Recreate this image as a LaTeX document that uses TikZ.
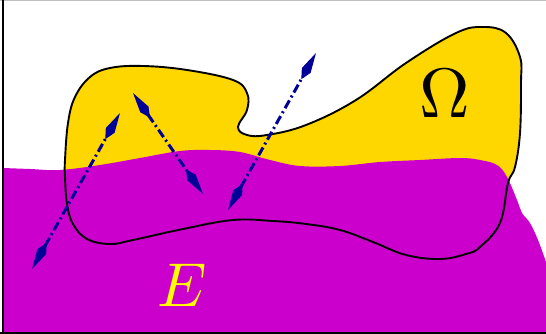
\documentclass[tikz,border=0pt]{standalone}
\usepackage{amsmath,amssymb}
\usepackage{xcolor}
\usepackage{tikz}
\usetikzlibrary{arrows.meta, positioning}

\definecolor{omegagold}{RGB}{255,215,0}
\definecolor{setmagenta}{RGB}{204,0,204}
\definecolor{trajblue}{RGB}{0,0,150}
\definecolor{labelyellow}{RGB}{255,255,0}

\begin{document}
\begin{tikzpicture}[x=1pt, y=-1pt,
    traj/.style={trajblue, line width=3pt,
        dash pattern=on 9pt off 3.5pt on 2pt off 3.5pt,
        {Kite[length=30pt, width=10pt, inset=10pt]}-{Kite[length=30pt, width=10pt, inset=10pt]}},
    border/.style={black, line width=2.6pt}]
    \useasboundingbox (0,0) rectangle (546,334);

    % ---------------- domain Omega (fill) ----------------
    \fill[omegagold] plot[smooth cycle, tension=0.65] coordinates {
        (90,77) (110,68) (143,66) (187,70) (233,80) (247,93) (247,110)
        (238,127) (247,135) (267,135) (306,125) (356,100) (406,63)
        (456,33) (483,27) (506,33) (520,57) (521,83) (520,133) (515,167)
        (508,183) (500,223) (480,247) (466,254) (440,259) (406,255)
        (373,242) (340,230) (306,224) (273,221) (233,220) (183,229)
        (133,240) (110,244) (87,239) (73,224) (67,204) (65,177) (65,160)
        (68,123) (75,97)};

    % ---------------- set E ----------------
    \fill[setmagenta] plot[smooth, tension=0.6] coordinates {
        (3,168) (30,169) (60,170) (100,165) (140,158) (180,151) (210,150)
        (240,152) (270,160) (300,166) (340,166) (380,162) (420,160)
        (460,158) (480,160) (497,165) (507,177) (517,200) (522,213)
        (530,223) (538,240) (546,262)}
        -- (546,334) -- (3,334) -- cycle;

    % ---------------- boundary of Omega ----------------
    \draw[black, line width=1.9pt] plot[smooth cycle, tension=0.65] coordinates {
        (90,77) (110,68) (143,66) (187,70) (233,80) (247,93) (247,110)
        (238,127) (247,135) (267,135) (306,125) (356,100) (406,63)
        (456,33) (483,27) (506,33) (520,57) (521,83) (520,133) (515,167)
        (508,183) (500,223) (480,247) (466,254) (440,259) (406,255)
        (373,242) (340,230) (306,224) (273,221) (233,220) (183,229)
        (133,240) (110,244) (87,239) (73,224) (67,204) (65,177) (65,160)
        (68,123) (75,97)};

    % ---------------- trajectories ----------------
    \coordinate (t1a) at (32,269);  \coordinate (t1b) at (120,113);
    \coordinate (t2a) at (133,93);  \coordinate (t2b) at (203,194);
    \coordinate (t3a) at (228,210); \coordinate (t3b) at (316,53);
    \draw[traj] (t1a) -- (t1b);
    \draw[traj] (t2a) -- (t2b);
    \draw[traj] (t3a) -- (t3b);

    % ---------------- labels ----------------
    \node[inner sep=0, scale=7] (omega) at (445,94) {$\Omega$};
    \node[inner sep=0, scale=6.2, text=labelyellow] (setE) at (182,285) {$E$};

    % ---------------- frame ----------------
    \draw[gray!50, line width=1pt] (0,0.5) -- (546,0.5);
    \draw[border] (3,0) -- (3,334);
    \draw[border] (0,333) -- (546,333);
\end{tikzpicture}
\end{document}
